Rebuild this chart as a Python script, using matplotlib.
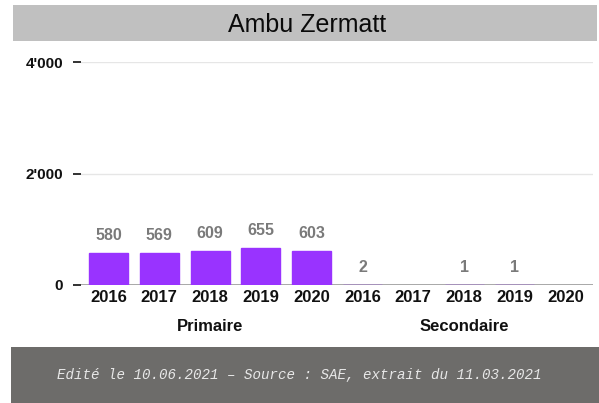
import matplotlib
matplotlib.use("Agg")
import matplotlib.pyplot as plt
from matplotlib.patches import Rectangle
import matplotlib.transforms as mtransforms

# ---- data ----
title = "Ambu Zermatt"
years = ["2016", "2017", "2018", "2019", "2020", "2016", "2017", "2018", "2019", "2020"]
groups = ["Primaire", "Secondaire"]
values = [580, 569, 609, 655, 603, 2, 0, 1, 1, 0]
value_labels = ["580", "569", "609", "655", "603", "2", "", "1", "1", ""]
yticks = [0, 2000, 4000]
ytick_labels = ["0", "2'000", "4'000"]
footer = "Edité le 10.06.2021 – Source : SAE, extrait du 11.03.2021"

W, H = 599, 403
fig = plt.figure(figsize=(W / 100, H / 100), dpi=100)
fig.patch.set_facecolor("white")

def fx(px):
    return px / W

def fy(py):
    return 1 - py / H

# title band
fig.patches.append(Rectangle((fx(13), fy(41)), fx(597) - fx(13), fy(5) - fy(41),
                             transform=fig.transFigure, facecolor="#c0c0c0",
                             edgecolor="none", zorder=0))
fig.text(fx(307.5), fy(32), title, ha="center", va="baseline",
         fontsize=18, family="Liberation Sans", color="#0a0a0a")

# footer band
fig.patches.append(Rectangle((fx(11), 0), 1 - fx(11), fy(347),
                             transform=fig.transFigure, facecolor="#6d6c6a",
                             edgecolor="none", zorder=0))
fig.text(fx(299), fy(375), footer, ha="center", va="center",
         fontsize=10.2, family="Liberation Mono", style="italic", color="#e8e8e8")

# axes
ax = fig.add_axes([fx(81), fy(285), fx(593) - fx(81), fy(62) - fy(285)])
ax.set_facecolor("none")
x = list(range(len(values)))
lws = [1.0 if v > 0 else 0 for v in values]
ax.bar(x, values, width=0.77, color="#9933ff", edgecolor="#9933ff",
       linewidth=lws, zorder=3)
ax.set_xlim(-0.541, 9.537)
ax.set_ylim(0, 4000)

for xi, v, lab in zip(x, values, value_labels):
    if lab:
        ax.annotate(lab, (xi, v), xytext=(0, 9.4), textcoords="offset points",
                    ha="center", va="baseline", fontsize=11.5,
                    family="Liberation Sans", fontweight="bold", color="#7a7a7a")

for s in ["top", "right", "left", "bottom"]:
    ax.spines[s].set_visible(False)
ax.axhline(0, color="#999999", lw=1.2, zorder=2)
for yv in yticks[1:]:
    ax.axhline(yv, color="#e6e6e6", lw=1.0, zorder=1)

ax.set_yticks(yticks)
ax.set_yticklabels(ytick_labels, fontsize=11, family="Liberation Sans",
                   fontweight="bold", color="#111111")
ax.tick_params(axis="y", length=5.5, width=1.3, color="#222222", pad=7.5)

ax.set_xticks(x)
ax.set_xticklabels(years, fontsize=12, family="Liberation Sans",
                   fontweight="bold", color="#111111")
ax.tick_params(axis="x", length=0, pad=3.5)

trans = mtransforms.blended_transform_factory(ax.transData, fig.transFigure)
ax.text(2, fy(331), groups[0], transform=trans, ha="center", va="baseline",
        fontsize=12, family="Liberation Sans", fontweight="bold", color="#111111")
ax.text(7, fy(331), groups[1], transform=trans, ha="center", va="baseline",
        fontsize=12, family="Liberation Sans", fontweight="bold", color="#111111")

fig.savefig("out.png", dpi=100)
